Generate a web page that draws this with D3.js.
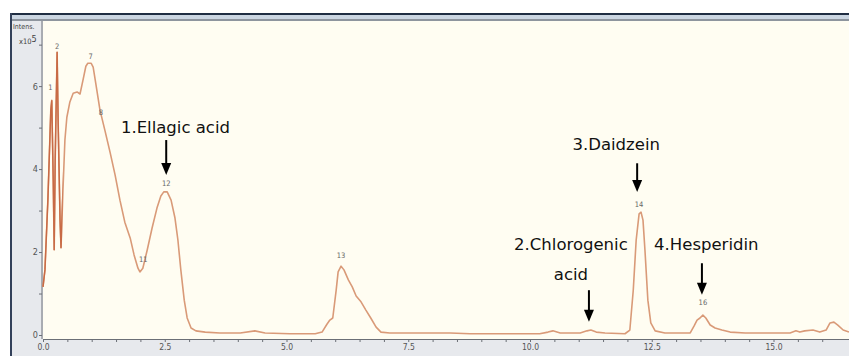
<!DOCTYPE html>
<html><head><meta charset="utf-8">
<script src="https://cdn.jsdelivr.net/npm/d3@7/dist/d3.min.js"></script>
<style>
html,body{margin:0;padding:0;background:#fff;}
svg{display:block;}
</style></head>
<body>
<svg id="c" width="849" height="356"></svg>
<script>
// retention time (min)
const times = [0,0.04,0.10,0.16,0.18,0.21,0.23,0.25,0.29,0.31,0.35,0.37,0.41,0.45,0.49,0.55,0.62,0.70,0.76,0.82,0.88,0.92,0.99,1.03,1.09,1.17,1.27,1.38,1.48,1.58,1.68,1.79,1.87,1.95,1.99,2.05,2.14,2.24,2.34,2.42,2.48,2.55,2.63,2.71,2.77,2.83,2.90,2.96,3.04,3.14,3.33,3.63,4.05,4.35,4.56,5.07,5.59,5.73,5.83,5.89,5.95,6.02,6.06,6.12,6.18,6.27,6.35,6.43,6.53,6.63,6.73,6.84,6.94,7.12,7.74,8.36,8.77,9.38,10.2,10.37,10.47,10.62,11.03,11.17,11.25,11.36,11.54,11.95,12.05,12.12,12.18,12.24,12.28,12.32,12.36,12.42,12.48,12.57,12.77,13.29,13.37,13.43,13.49,13.55,13.61,13.70,13.80,13.94,14.11,14.42,15.34,15.46,15.54,15.64,15.81,15.95,16.08,16.16,16.24,16.32,16.43,16.55];
// intensity (x10^5)
const intensity = [1.16,1.57,3.25,5.42,5.66,3.73,2.05,4.2,6.82,5.2,2.77,2.1,3.5,4.7,5.25,5.61,5.83,5.86,5.81,6.14,6.48,6.55,6.55,6.46,6.02,5.42,4.94,4.39,3.86,3.25,2.72,2.34,1.93,1.61,1.52,1.61,2.05,2.58,3.06,3.35,3.45,3.45,3.25,2.82,2.29,1.57,0.84,0.41,0.17,0.10,0.07,0.05,0.05,0.10,0.05,0.03,0.03,0.07,0.26,0.36,0.41,1.08,1.52,1.66,1.57,1.33,1.16,0.94,0.80,0.60,0.41,0.19,0.07,0.05,0.05,0.05,0.03,0.03,0.03,0.07,0.10,0.05,0.05,0.10,0.12,0.07,0.05,0.03,0.12,1.08,2.29,2.92,2.96,2.77,2.05,0.84,0.29,0.10,0.05,0.05,0.22,0.36,0.41,0.48,0.41,0.24,0.17,0.12,0.07,0.05,0.05,0.10,0.07,0.10,0.12,0.07,0.12,0.29,0.31,0.24,0.12,0.07];

// peak number labels
const peakLabels = ["1","2","7","8","11","12","13","14","16"];
const peakTimes  = [0.15,0.29,0.98,1.19,2.06,2.53,6.12,12.24,13.55];
const peakLabelY = [5.9,6.9,6.65,5.3,1.75,3.6,1.85,3.09,0.72];

// compound annotations
const compNames  = ["1.Ellagic acid","2.Chlorogenic","3.Daidzein","4.Hesperidin"];
const compLine2  = ["","acid","",""];
const compTextT  = [2.72,10.84,11.77,13.62];
const compTextY  = [4.86,2.05,4.46,2.05];
const arrowT     = [2.53,11.21,12.20,13.53];
const arrowTop   = [4.7,1.08,4.14,1.73];
const arrowBot   = [3.86,0.32,3.45,0.97];

const xTicks = [0,2.5,5,7.5,10,12.5,15];
const yTicks = [0,2,4,6];

const svg = d3.select("#c");
const W = 849, H = 356;
const L = 43, T = 21, B = 339;

// frame
svg.append("rect").attr("x",0).attr("y",0).attr("width",W).attr("height",H).attr("fill","#ffffff");
svg.append("rect").attr("x",10).attr("y",13).attr("width",W-10).attr("height",H-13).attr("fill","#e7e9ed");
svg.append("rect").attr("x",10).attr("y",13).attr("width",W-10).attr("height",2).attr("fill","#1f2d42");
svg.append("rect").attr("x",10).attr("y",13).attr("width",2).attr("height",H-13).attr("fill","#33415a");
svg.append("rect").attr("x",12).attr("y",15).attr("width",W-12).attr("height",4).attr("fill","#cbd6e2");
svg.append("rect").attr("x",12).attr("y",19).attr("width",W-12).attr("height",2).attr("fill","#8e959e");
svg.append("rect").attr("x",L).attr("y",T).attr("width",W-L).attr("height",B-T).attr("fill","#fffdf2");

const x = d3.scaleLinear().domain([0,16.55]).range([L,W]);
const y = d3.scaleLinear().domain([0,7.57]).range([335,T]);

// axes
const xAxis = d3.axisBottom(x).tickValues(d3.range(0,16.5,0.5)).tickSize(3)
  .tickFormat(d => xTicks.includes(d) ? d.toFixed(1) : "");
const gx = svg.append("g").attr("transform",`translate(0,${B})`).call(xAxis);
gx.select(".domain").attr("stroke","#6b6f76");
gx.selectAll(".tick line").attr("stroke","#6b6f76");
gx.selectAll("text").attr("fill","#555").attr("font-family","DejaVu Sans Condensed, DejaVu Sans").attr("font-size",8.5).attr("dy","0.55em");

const yAxis = d3.axisLeft(y).tickValues([0,1,2,3,4,5,6,7]).tickSize(3)
  .tickFormat(d => yTicks.includes(d) ? d : "");
const gy = svg.append("g").attr("transform",`translate(${L-1},0)`).call(yAxis);
gy.select(".domain").attr("d",`M-0,${T}V${B}`).attr("stroke","#6b6f76");
gy.selectAll(".tick line").attr("stroke","#6b6f76");
gy.selectAll("text").attr("fill","#555").attr("font-family","DejaVu Sans Condensed, DejaVu Sans").attr("font-size",9).attr("x",-4);

svg.append("text").attr("x",13).attr("y",29).attr("font-family","DejaVu Sans Condensed, DejaVu Sans").attr("font-size",7).attr("fill","#444").text("Intens.");
const xt = svg.append("text").attr("x",19).attr("y",44).attr("font-family","DejaVu Sans Condensed, DejaVu Sans").attr("font-size",7.5).attr("fill","#444");
xt.append("tspan").text("x10");
xt.append("tspan").attr("dy",-2.5).attr("font-size",9).text("5");

// chromatogram
const data = times.map((t,i)=>({t, v:intensity[i]}));
const line = d3.line().x(d=>x(d.t)).y(d=>y(d.v));
svg.append("defs").append("clipPath").attr("id","early").append("rect")
  .attr("x",0).attr("y",0).attr("width",x(0.4)).attr("height",H);
svg.append("path").datum(data).attr("d",line).attr("fill","none").attr("stroke","#d99a78").attr("stroke-width",1.6).attr("stroke-linejoin","round");
svg.append("path").datum(data).attr("d",line).attr("fill","none").attr("stroke","#c86a45").attr("stroke-width",1.4).attr("clip-path","url(#early)");

// peak labels
peakLabels.forEach((p,i)=>{
  svg.append("text").attr("x",x(peakTimes[i])).attr("y",y(peakLabelY[i])).attr("text-anchor","middle")
    .attr("font-family","DejaVu Sans Condensed, DejaVu Sans").attr("font-size",7.5).attr("fill","#666").text(p);
});

// compound annotations
compNames.forEach((n,i)=>{
  svg.append("text").attr("x",x(compTextT[i])).attr("y",y(compTextY[i])).attr("text-anchor","middle")
    .attr("font-family","DejaVu Sans").attr("font-size",16.5).attr("fill","#111").text(n);
  if(compLine2[i]){
    svg.append("text").attr("x",x(compTextT[i])).attr("y",y(compTextY[i])+30).attr("text-anchor","middle")
      .attr("font-family","DejaVu Sans").attr("font-size",16.5).attr("fill","#111").text(compLine2[i]);
  }
  const ax = x(arrowT[i]), a0 = y(arrowTop[i]), a1 = y(arrowBot[i]);
  svg.append("line").attr("x1",ax).attr("x2",ax).attr("y1",a0).attr("y2",a1-10).attr("stroke","#000").attr("stroke-width",2);
  svg.append("path").attr("d",`M${ax-5},${a1-12}L${ax+5},${a1-12}L${ax},${a1}Z`).attr("fill","#000");
});
</script>
</body></html>
